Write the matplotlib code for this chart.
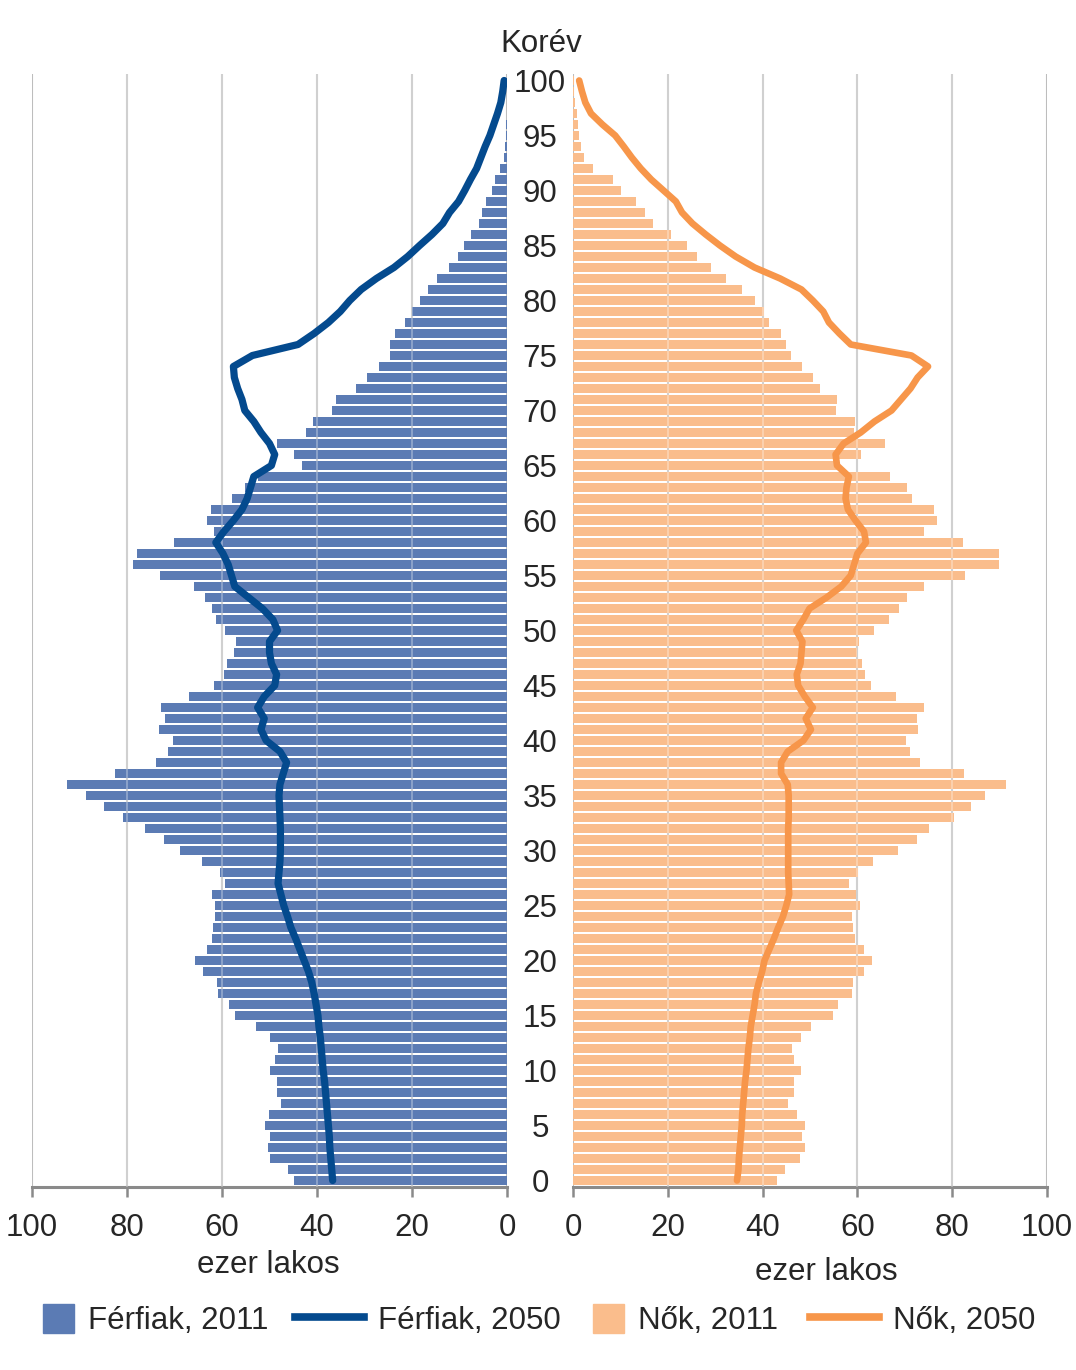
import matplotlib
matplotlib.use("Agg")
import matplotlib.pyplot as plt
from matplotlib.patches import Patch
from matplotlib.lines import Line2D

plt.rcParams['font.family'] = ['Liberation Sans', 'DejaVu Sans']

# ages 0..100
ages = list(range(0, 101))

# thousand persons (index = age)
men_2011 = [44.9, 46.2, 49.8, 50.4, 49.8, 50.9, 50.1, 47.5, 48.5, 48.5,
            49.9, 48.8, 48.2, 49.9, 52.9, 57.3, 58.5, 60.8, 61.0, 64.0,
            65.6, 63.2, 62.2, 61.8, 61.5, 61.5, 62.2, 59.3, 60.5, 64.3,
            68.8, 72.3, 76.2, 80.9, 84.9, 88.7, 92.7, 82.5, 73.8, 71.3,
            70.3, 73.3, 71.9, 72.9, 66.9, 61.6, 59.6, 58.9, 57.4, 57.1,
            59.3, 61.3, 62.2, 63.6, 66.0, 73.1, 78.7, 78.0, 70.2, 61.6,
            63.1, 62.4, 57.8, 55.2, 52.5, 43.1, 44.9, 48.4, 42.4, 40.9,
            36.9, 36.0, 31.7, 29.5, 26.9, 24.7, 24.7, 23.5, 21.4, 20.0,
            18.4, 16.6, 14.8, 12.2, 10.4, 9.1, 7.5, 6.0, 5.2, 4.4,
            3.1, 2.5, 1.5, 0.6, 0.4, 0.3, 0.2, 0.1, 0.1, 0.05, 0.05]

men_2050 = [36.7, 36.9, 37.1, 37.3, 37.4, 37.6, 37.8, 38.0, 38.2, 38.4,
            38.7, 38.9, 39.1, 39.3, 39.6, 39.8, 40.2, 40.6, 41.1, 41.8,
            42.7, 43.6, 44.5, 45.5, 46.2, 47.0, 47.6, 48.2, 48.0, 47.8,
            47.7, 47.7, 47.7, 47.8, 47.9, 48.0, 47.8, 47.1, 46.4, 47.8,
            50.7, 51.8, 51.1, 52.5, 51.1, 48.9, 48.5, 49.6, 50.0, 50.0,
            48.3, 49.3, 51.5, 54.4, 57.3, 58.0, 58.7, 59.8, 61.3, 59.6,
            57.6, 55.8, 54.7, 54.0, 53.3, 49.6, 48.9, 50.0, 51.8, 53.3,
            55.2, 55.8, 56.7, 57.4, 57.6, 53.6, 44.0, 40.6, 37.6, 35.1,
            33.1, 30.7, 27.5, 23.8, 20.9, 18.4, 15.8, 13.5, 12.1, 10.2,
            8.9, 7.7, 6.4, 5.5, 4.6, 3.6, 2.8, 2.0, 1.3, 0.9, 0.6]

women_2011 = [43.0, 44.8, 47.8, 48.9, 48.3, 49.0, 47.3, 45.4, 46.7, 46.6,
              48.0, 46.7, 46.1, 48.0, 50.2, 54.9, 56.0, 58.9, 59.1, 61.3,
              63.1, 61.4, 59.5, 59.1, 58.9, 60.5, 59.6, 58.2, 60.2, 63.3,
              68.5, 72.5, 75.2, 80.4, 83.9, 87.0, 91.3, 82.5, 73.2, 71.1,
              70.3, 72.8, 72.5, 74.1, 68.2, 62.9, 61.7, 60.9, 60.0, 60.4,
              63.5, 66.7, 68.7, 70.4, 74.1, 82.8, 89.9, 89.9, 82.3, 74.1,
              76.8, 76.1, 71.6, 70.4, 66.9, 56.0, 60.7, 65.9, 59.3, 59.5,
              55.4, 55.7, 52.2, 50.6, 48.3, 46.0, 45.0, 43.9, 41.4, 40.3,
              38.4, 35.7, 32.2, 29.1, 26.2, 24.1, 20.6, 16.9, 15.1, 13.3,
              10.1, 8.4, 4.3, 2.4, 1.7, 1.2, 1.1, 0.9, 0.4, 0.2, 0.2]

women_2050 = [34.6, 34.9, 35.0, 35.2, 35.4, 35.6, 35.7, 35.9, 36.1, 36.3,
              36.6, 36.8, 37.0, 37.3, 37.5, 37.9, 38.3, 38.6, 39.2, 39.9,
              40.4, 41.4, 42.4, 43.3, 44.3, 45.0, 45.6, 45.5, 45.4, 45.4,
              45.4, 45.4, 45.4, 45.5, 45.5, 45.5, 45.3, 43.9, 43.9, 45.3,
              48.6, 50.2, 49.1, 50.6, 48.9, 47.5, 47.2, 48.0, 48.2, 48.4,
              47.1, 48.6, 49.9, 53.5, 56.6, 58.6, 59.3, 60.0, 61.8, 61.4,
              59.6, 58.0, 57.5, 57.7, 58.2, 55.7, 55.4, 57.1, 60.7, 63.6,
              67.2, 69.2, 71.2, 72.7, 74.9, 71.4, 58.6, 56.2, 54.0, 52.8,
              50.6, 48.2, 43.7, 38.3, 34.3, 31.0, 28.0, 25.2, 23.0, 21.7,
              19.1, 16.5, 14.3, 12.4, 10.7, 8.9, 6.2, 3.8, 2.6, 1.9, 1.3]

x_ticks = [0, 20, 40, 60, 80, 100]
age_ticks = list(range(0, 101, 5))

c_men = '#5b7bb4'
c_men_line = '#044a8e'
c_women = '#fabd8c'
c_women_line = '#f7964a'
c_grid = '#bdbdbd'
c_axis = '#8a8a8a'
c_text = '#262626'
fs = 22.5

W, H = 1076, 1370
fig = plt.figure(figsize=(W / 100, H / 100), dpi=100)

bottom = (H - 1187) / H
height = (1187 - 74) / H
ax_l = fig.add_axes([32 / W, bottom, (507 - 32) / W, height])
ax_r = fig.add_axes([573 / W, bottom, (1047 - 573) / W, height])

ax_l.barh(ages, men_2011, height=0.84, color=c_men, zorder=2)
ax_l.plot(men_2050, ages, color=c_men_line, lw=5.2, zorder=4,
          solid_capstyle='round', solid_joinstyle='round')
ax_r.barh(ages, women_2011, height=0.84, color=c_women, zorder=2)
ax_r.plot(women_2050, ages, color=c_women_line, lw=4.8, zorder=4,
          solid_capstyle='round', solid_joinstyle='round')

for ax in (ax_l, ax_r):
    ax.set_ylim(-0.59, 100.59)
    ax.set_xticks(x_ticks)
    ax.set_xticklabels([str(t) for t in x_ticks])
    ax.grid(axis='x', color=c_grid, lw=1.5)
    ax.set_axisbelow(True)
    # grid shows faintly through the bars
    for t in x_ticks[1:-1]:
        ax.axvline(t, color='white', alpha=0.35, lw=1.2, zorder=3)
    for s in ('top', 'left', 'right'):
        ax.spines[s].set_visible(False)
    ax.spines['bottom'].set_color(c_axis)
    ax.spines['bottom'].set_linewidth(2.2)
    ax.tick_params(axis='x', direction='out', length=7, width=1.8,
                   color=c_axis, labelsize=fs, labelcolor=c_text, pad=12)

ax_l.set_xlim(100, 0)
ax_r.set_xlim(0, 100)
ax_l.set_yticks([])

ax_r.set_yticks(age_ticks)
ax_r.set_yticklabels([str(a) for a in age_ticks])
ax_r.tick_params(axis='y', length=0, pad=23.8, labelsize=fs, labelcolor=c_text)
for lab in ax_r.get_yticklabels():
    lab.set_horizontalalignment('center')

fig.text(541 / W, 1 - 44 / H, 'Korév', ha='center', va='center',
         fontsize=fs, color=c_text)
fig.text(268 / W, 1 - 1265 / H, 'ezer lakos', ha='center', va='center',
         fontsize=fs, color=c_text)
fig.text(826 / W, 1 - 1272 / H, 'ezer lakos', ha='center', va='center',
         fontsize=fs, color=c_text)

# legend, one entry each so spacing follows the original
entries = [
    (Patch(color=c_men), 'Férfiak, 2011', 43, 1.0),
    (Line2D([], [], color=c_men_line, lw=5.5), 'Férfiak, 2050', 295, 2.2),
    (Patch(color=c_women), 'Nők, 2011', 593, 1.0),
    (Line2D([], [], color=c_women_line, lw=5.5), 'Nők, 2050', 810, 2.2),
]
for handle, label, xpos, hl in entries:
    fig.legend([handle], [label], loc='center left',
               bbox_to_anchor=(xpos / W, 1 - 1320 / H),
               frameon=False, fontsize=fs, labelcolor=c_text,
               handlelength=hl, handleheight=1.05, handletextpad=0.45,
               borderpad=0, borderaxespad=0)

fig.savefig('out.png', dpi=100)
